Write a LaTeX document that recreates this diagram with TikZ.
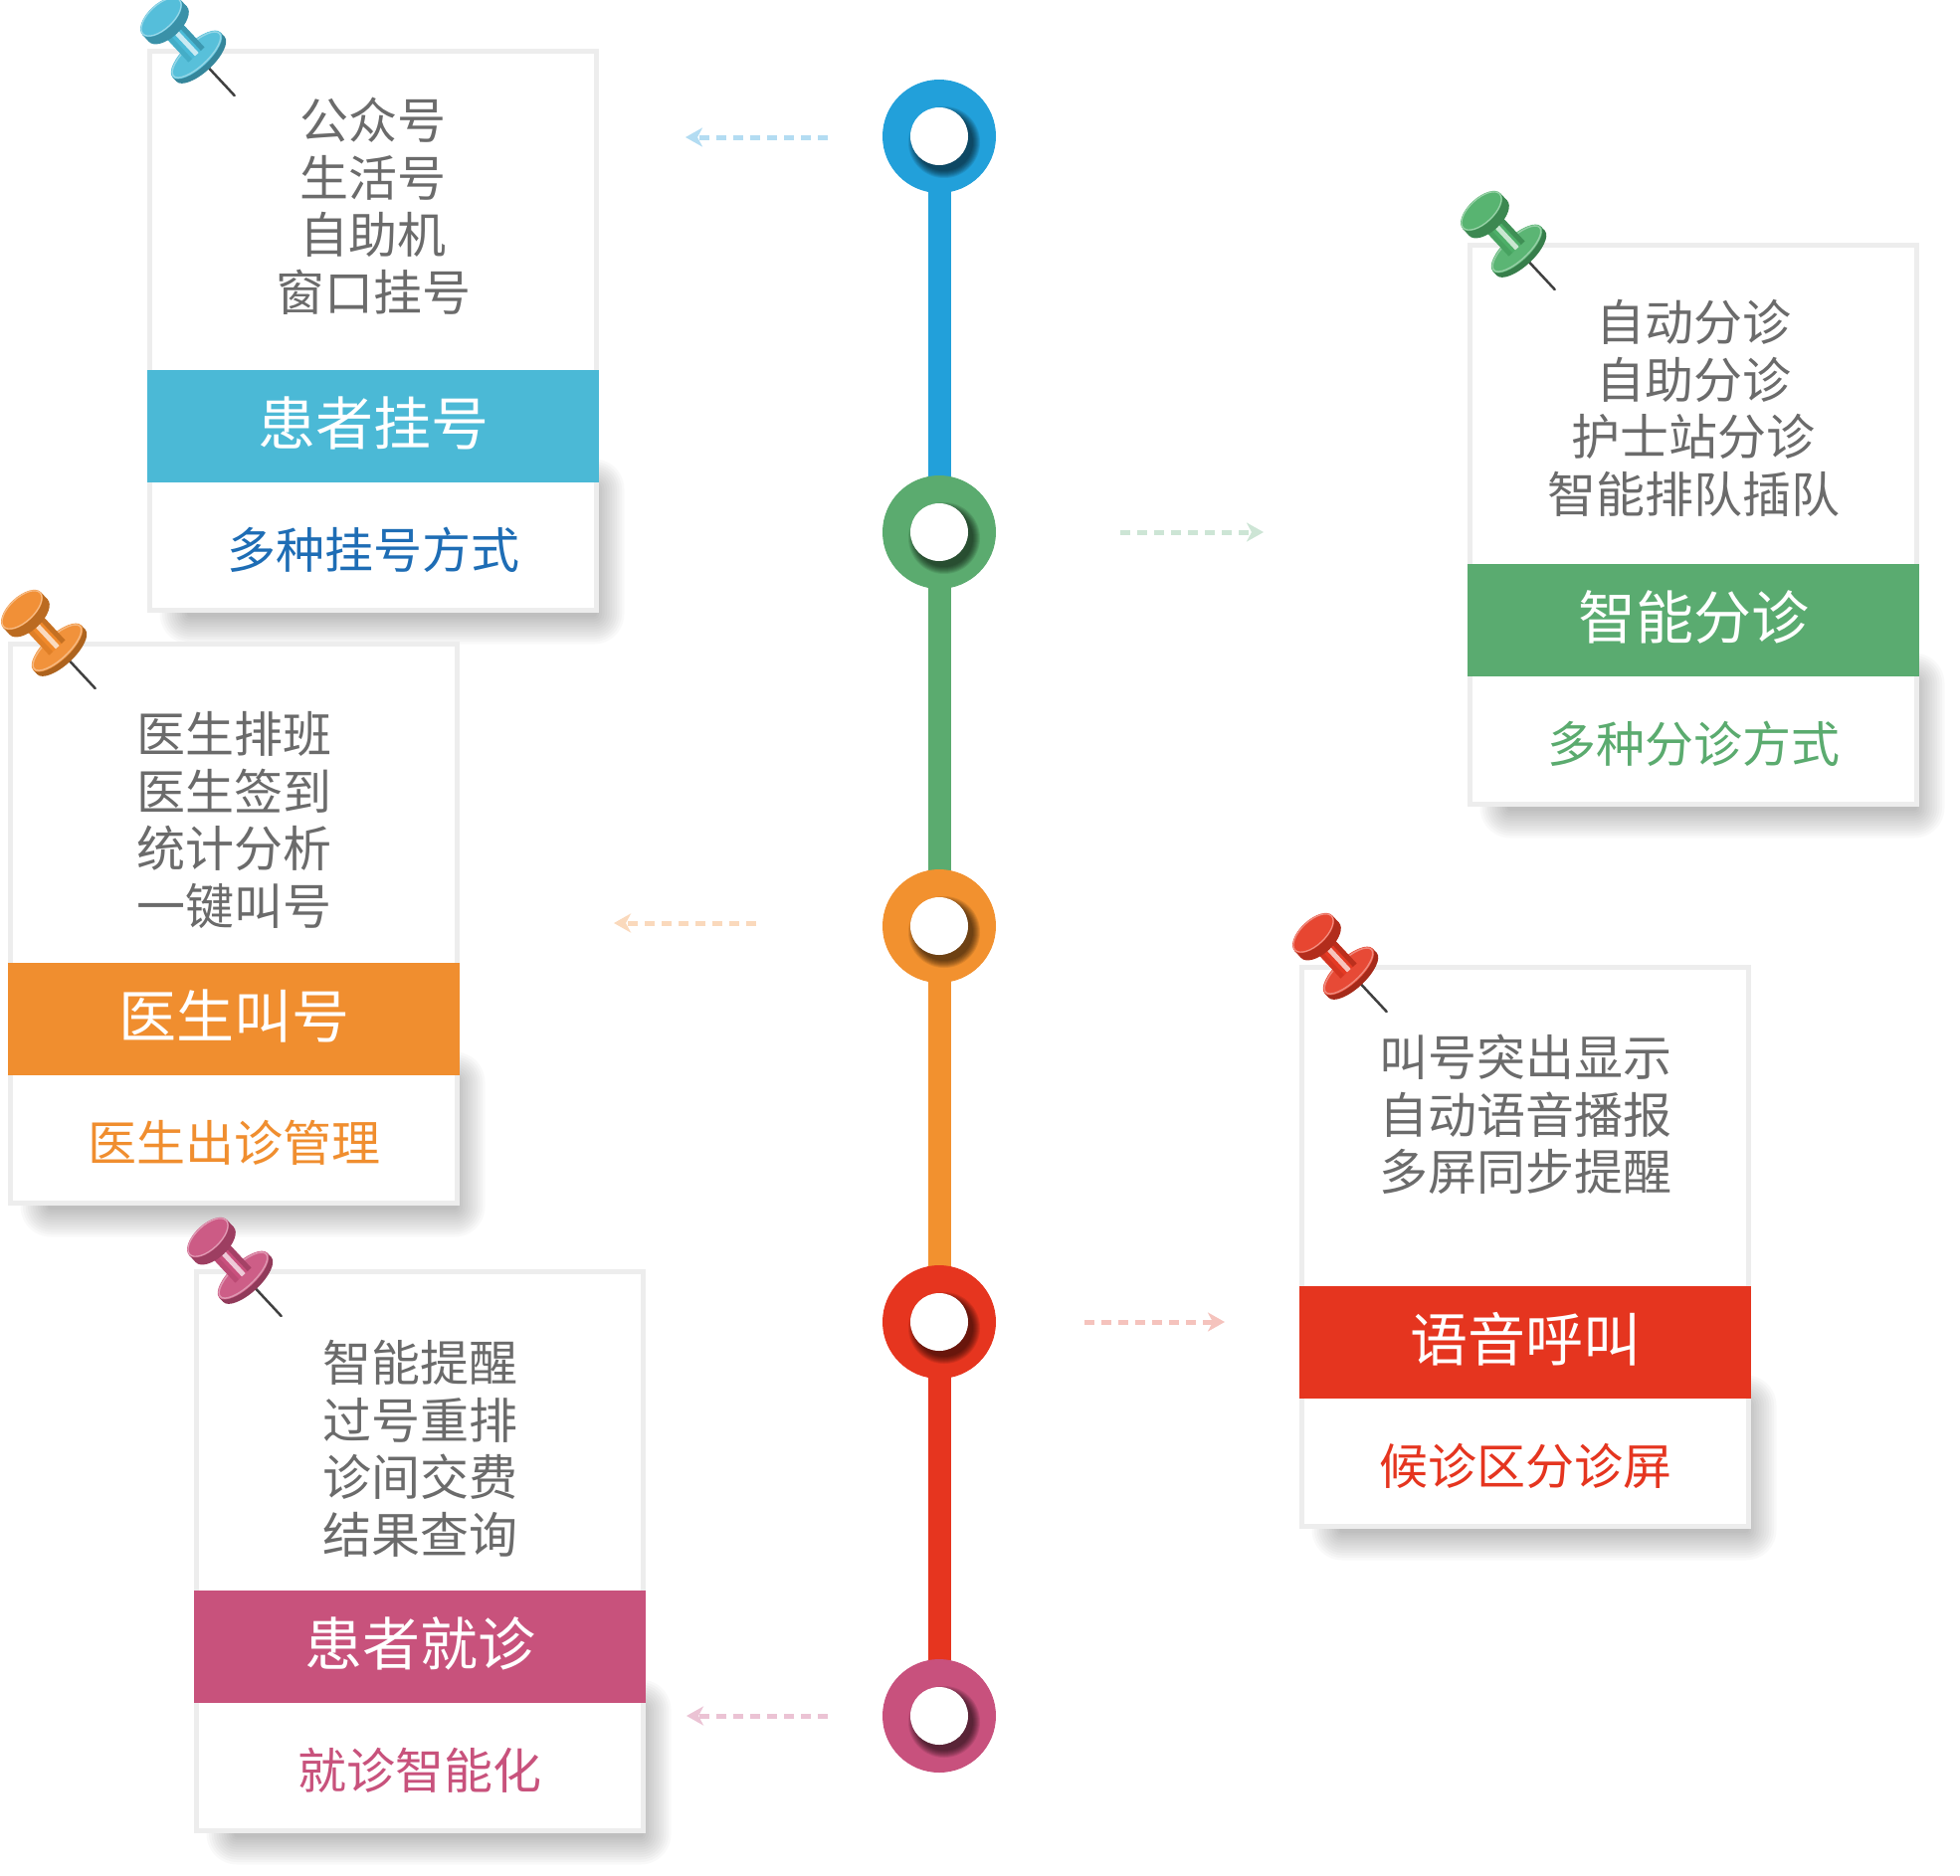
\documentclass[tikz,border=0pt]{standalone}
\usepackage{fontspec}
\newfontfamily\cjk{Noto Sans CJK SC}
\usetikzlibrary{arrows.meta}
\definecolor{txtgray}{HTML}{6B6B6B}
\definecolor{cardline}{HTML}{EDEDED}
\definecolor{blueC}{HTML}{22A0DA}\definecolor{blueBand}{HTML}{4BB9D6}\definecolor{bluePin}{HTML}{4ABAD7}\definecolor{blueSub}{HTML}{1E6DB5}\definecolor{blueArr}{HTML}{B3DCF2}
\definecolor{greenC}{HTML}{5BAB6F}\definecolor{greenBand}{HTML}{5AAB70}\definecolor{greenPin}{HTML}{4DAF68}\definecolor{greenSub}{HTML}{5BAB6F}\definecolor{greenArr}{HTML}{CDE5D5}
\definecolor{orangeC}{HTML}{F2912F}\definecolor{orangeBand}{HTML}{F08E2F}\definecolor{orangePin}{HTML}{F0892A}\definecolor{orangeSub}{HTML}{F08E2F}\definecolor{orangeArr}{HTML}{FAD9BC}
\definecolor{redC}{HTML}{E6351F}\definecolor{redBand}{HTML}{E5351F}\definecolor{redPin}{HTML}{E53A24}\definecolor{redSub}{HTML}{E5351F}\definecolor{redArr}{HTML}{F5C3BD}
\definecolor{pinkC}{HTML}{C8517D}\definecolor{pinkBand}{HTML}{C8527C}\definecolor{pinkPin}{HTML}{C9507D}\definecolor{pinkSub}{HTML}{C8527C}\definecolor{pinkArr}{HTML}{EBC3D4}
\pgfdeclarelayer{bg}
\pgfsetlayers{bg,main}
\tikzset{
  cardbox/.style={draw=cardline,line width=5pt,fill=white,inner sep=0pt,minimum width=449pt,minimum height=562pt},
  bandbox/.style={inner sep=0pt,minimum width=454pt,minimum height=113pt},
  linetext/.style={font=\cjk\fontsize{49}{58}\selectfont,text=txtgray,anchor=base,inner sep=0pt},
  titletext/.style={font=\cjk\fontsize{58}{66}\selectfont,text=white,anchor=base,inner sep=0pt},
  subtext/.style={font=\cjk\fontsize{49}{58}\selectfont,anchor=base,inner sep=0pt},
  ringnode/.style={circle,inner sep=0pt,minimum size=114pt},
  holenode/.style={circle,inner sep=0pt,minimum size=58pt,fill=white},
  trackline/.style={line width=23pt},
  arr/.style={line width=5pt,dash pattern=on 10pt off 7pt,-{Stealth[length=17pt,width=19pt,inset=5pt]}},
  needle/.style={line width=2.5pt,black!75,line cap=round}
}
\newcommand\mkpin[4]{%
  \begin{scope}[shift={(#2,#3)},rotate=-47]
    \draw[needle] (56,0) -- (108,0);
    \fill[#4!72!black] (58,0) ellipse [x radius=13, y radius=33];
    \fill[#4!72!black] (52,-33) rectangle (58,33);
    \fill[#4!92!white] (52,0) ellipse [x radius=13, y radius=33];
    \draw[white,opacity=0.35,line width=1.5pt] (52,0) ellipse [x radius=11.5, y radius=31.5];
    \fill[#4] (10,-11) rectangle (52,11);
    \fill[#4!70!black,opacity=0.6] (10,-11) rectangle (52,-6);
    \fill[white,opacity=0.7] (10,-3) rectangle (52,2);
    \fill[#4!80!black,opacity=0.35] (10,6) rectangle (52,11);
    \fill[#4!78!black] (0,-26) rectangle (10,26);
    \fill[#4!78!black] (10,0) ellipse [x radius=13, y radius=26];
    \fill[#4!94!white] (0,0) ellipse [x radius=13, y radius=26];
    \draw[white,opacity=0.4,line width=1.2pt] (0,0) ellipse [x radius=12, y radius=25];
    \coordinate (#1) at (0,0);
  \end{scope}}
\newcommand\mkcard[8]{%
  \foreach \k in {0,...,11}{%
    \pgfmathsetmacro\rr{\k*2.5+3}%
    \fill[black,opacity=0.024,rounded corners=\rr pt] ({#2+40-\k*2.5},{#3+440-\k*2.5}) rectangle ({#2+452+\k*2.5},{#3+571+\k*2.5});
  }%
  \node[cardbox] (#1) at ({#2+227},{#3+283.5}) {};
  \node[bandbox,fill=#4Band] (#1band) at ({#2+227},{#3+379.5}) {};
  \foreach \txt [count=\i] in {#5}{%
    \node[linetext] (#1l\i) at ({#2+227},{#3+#6+(\i-1)*57.5+18.5}) {\txt};
  }%
  \node[titletext] (#1title) at ({#2+227},{#3+376+22}) {#7};
  \node[subtext,text=#4Sub] (#1sub) at ({#2+227},{#3+504+18.5}) {#8};
  \mkpin{#1pin}{#2+14}{#3-32}{#4Pin}%
}
\newcommand\mkring[4]{% name, y, colour, hole name
  \node[ringnode,fill=#3] (#1) at (944,#2) {};
  \foreach \k in {0,...,7}{\fill[black,opacity=0.09] (949,{#2+6}) circle ({29+\k});}
  \node[holenode] (#4) at (944,#2) {};
}
\begin{document}
\begin{tikzpicture}[x=1pt,y=-1pt]
\useasboundingbox (0,0) rectangle (1970,1885);
% cards
\mkcard{c1}{148}{49}{blue}{公众号,生活号,自助机,窗口挂号}{72}{患者挂号}{多种挂号方式}
\mkcard{c2}{1475}{244}{green}{自动分诊,自助分诊,护士站分诊,智能排队插队}{80}{智能分诊}{多种分诊方式}
\mkcard{c3}{8}{645}{orange}{医生排班,医生签到,统计分析,一键叫号}{93}{医生叫号}{医生出诊管理}
\mkcard{c4}{1306}{970}{red}{叫号突出显示,自动语音播报,多屏同步提醒}{93}{语音呼叫}{候诊区分诊屏}
\mkcard{c5}{195}{1276}{pink}{智能提醒,过号重排,诊间交费,结果查询}{94}{患者就诊}{就诊智能化}
% timeline rings
\mkring{n1}{137}{blueC}{h1}
\mkring{n2}{535}{greenC}{h2}
\mkring{n3}{931}{orangeC}{h3}
\mkring{n4}{1329}{redC}{h4}
\mkring{n5}{1725}{pinkC}{h5}
\begin{pgfonlayer}{bg}
  \draw[trackline,blueC] (n1.center) -- (n2.center);
  \draw[trackline,greenC] (n2.center) -- (n3.center);
  \draw[trackline,orangeC] (n3.center) -- (n4.center);
  \draw[trackline,redC] (n4.center) -- (n5.center);
\end{pgfonlayer}
% dashed arrows
\coordinate (a1s) at (832,138); \coordinate (a1e) at (689,138);
\coordinate (a2s) at (1126,535); \coordinate (a2e) at (1270,535);
\coordinate (a3s) at (760,928); \coordinate (a3e) at (617,928);
\coordinate (a4s) at (1090,1329); \coordinate (a4e) at (1231,1329);
\coordinate (a5s) at (832,1725); \coordinate (a5e) at (690,1725);
\draw[arr,blueArr] (a1s) -- (a1e);
\draw[arr,greenArr] (a2s) -- (a2e);
\draw[arr,orangeArr] (a3s) -- (a3e);
\draw[arr,redArr] (a4s) -- (a4e);
\draw[arr,pinkArr] (a5s) -- (a5e);
\end{tikzpicture}
\end{document}
